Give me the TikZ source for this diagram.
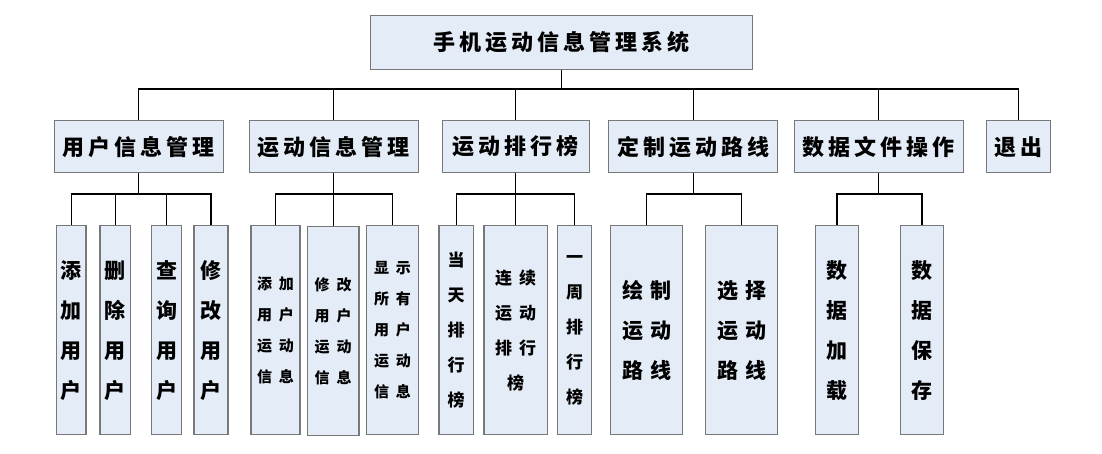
\documentclass[tikz,border=0pt]{standalone}
\usepackage{fontspec}
\setmainfont{Noto Sans CJK SC}
\newfontfamily\cjkwide[LetterSpace=18]{Noto Sans CJK SC}
\usepackage{tikz}
\usetikzlibrary{calc}
\definecolor{boxblue}{RGB}{228,236,247}
\definecolor{boxline}{RGB}{120,120,120}
\tikzstyle{headbox}=[draw=boxline,fill=boxblue,line width=1.2pt,inner sep=0pt,font=\fontsize{22}{26}\cjkwide\bfseries]
\tikzstyle{sysbox}=[headbox,minimum width=382pt,minimum height=54pt]
\tikzstyle{modbox}=[headbox,minimum height=52pt]
\tikzstyle{leafbox}=[draw=boxline,fill=boxblue,line width=1.2pt,inner sep=0pt,align=center,minimum height=209pt]
\tikzstyle{bigtext}=[font=\fontsize{21}{40}\selectfont\bfseries]
\tikzstyle{midtext}=[font=\fontsize{17}{35}\selectfont\bfseries]
\tikzstyle{smalltext}=[font=\fontsize{15}{31}\selectfont\bfseries]
\tikzstyle{edge} = [draw,line width=1.3pt]

\begin{document}
\begin{tikzpicture}[x=1pt,y=-1pt]
    \useasboundingbox (0,0) rectangle (1102,453);
    % First the system box and the modules
    \node[sysbox] (sys) at (561.8,42.5) {手机运动信息管理系统};

    \foreach \pos/ \name/ \boxw/ \txt in {{(138.8,146.7)/usr/169/用户信息管理},{(333.8,146.7)/spt/169/运动信息管理},
        {(515.8,146.7)/rank/147/运动排行榜},{(693.3,146.7)/route/169/定制运动路线},
        {(878.7,146.7)/file/169/数据文件操作},{(1018.7,146.7)/quit/64/退出}}
        \node[modbox,minimum width=\boxw pt] (\name) at \pos {\txt};

    % Then the leaves, one column of characters
    \foreach \pos/ \name/ \boxw/ \txt in {{(71.3,330.3)/addu/29.3/添\\加\\用\\户},{(115.3,330.3)/delu/30.7/删\\除\\用\\户},
        {(166.7,330.3)/qryu/30/查\\询\\用\\户},{(211,330.3)/modu/34/修\\改\\用\\户},
        {(837,330.3)/load/42.6/数\\据\\加\\载},{(922,330.3)/save/42.6/数\\据\\保\\存}}
        \node[leafbox,bigtext,minimum width=\boxw pt] (\name) at \pos {\txt};

    \foreach \pos/ \name/ \boxw/ \txt in {{(456.2,330.3)/today/34.3/当\\天\\排\\行\\榜},{(574.7,330.3)/week/34/一\\周\\排\\行\\榜}}
        \node[leafbox,midtext,minimum width=\boxw pt] (\name) at \pos {\txt};

    % leaves with two columns
    \node[leafbox,smalltext,minimum width=49pt] (adds) at (275.5,330.3)
        {添\hspace{7pt}加\\用\hspace{7pt}户\\运\hspace{7pt}动\\信\hspace{7pt}息};
    \node[leafbox,smalltext,minimum width=51.7pt] (mods) at (333.2,331.2)
        {修\hspace{7pt}改\\用\hspace{7pt}户\\运\hspace{7pt}动\\信\hspace{7pt}息};
    \node[leafbox,smalltext,minimum width=51.7pt] (alls) at (392.5,330.3)
        {显\hspace{7pt}示\\所\hspace{7pt}有\\用\hspace{7pt}户\\运\hspace{7pt}动\\信\hspace{7pt}息};
    \node[leafbox,midtext,minimum width=63.3pt] (streak) at (515.7,330.3)
        {连\hspace{7pt}续\\运\hspace{7pt}动\\排\hspace{7pt}行\\榜};
    \node[leafbox,bigtext,minimum width=71.6pt] (draw) at (646.5,330.3)
        {绘\hspace{7pt}制\\运\hspace{7pt}动\\路\hspace{7pt}线};
    \node[leafbox,bigtext,minimum width=72pt] (pick) at (741.7,330.3)
        {选\hspace{7pt}择\\运\hspace{7pt}动\\路\hspace{7pt}线};

    % Connect system to modules
    \foreach \dest in {usr,spt,rank,route,file,quit}
        \path[edge] (sys.south) -- ++(0,19) -| (\dest.north);

    % Connect modules to leaves
    \foreach \source/ \dest in {usr/addu,usr/delu,usr/qryu,usr/modu,spt/adds,spt/mods,spt/alls,
        rank/today,rank/streak,rank/week,route/draw,route/pick,file/load,file/save}
        \path[edge] (\source.south) -- ++(0,20.6) -| (\dest.north);

\end{tikzpicture}
\end{document}
